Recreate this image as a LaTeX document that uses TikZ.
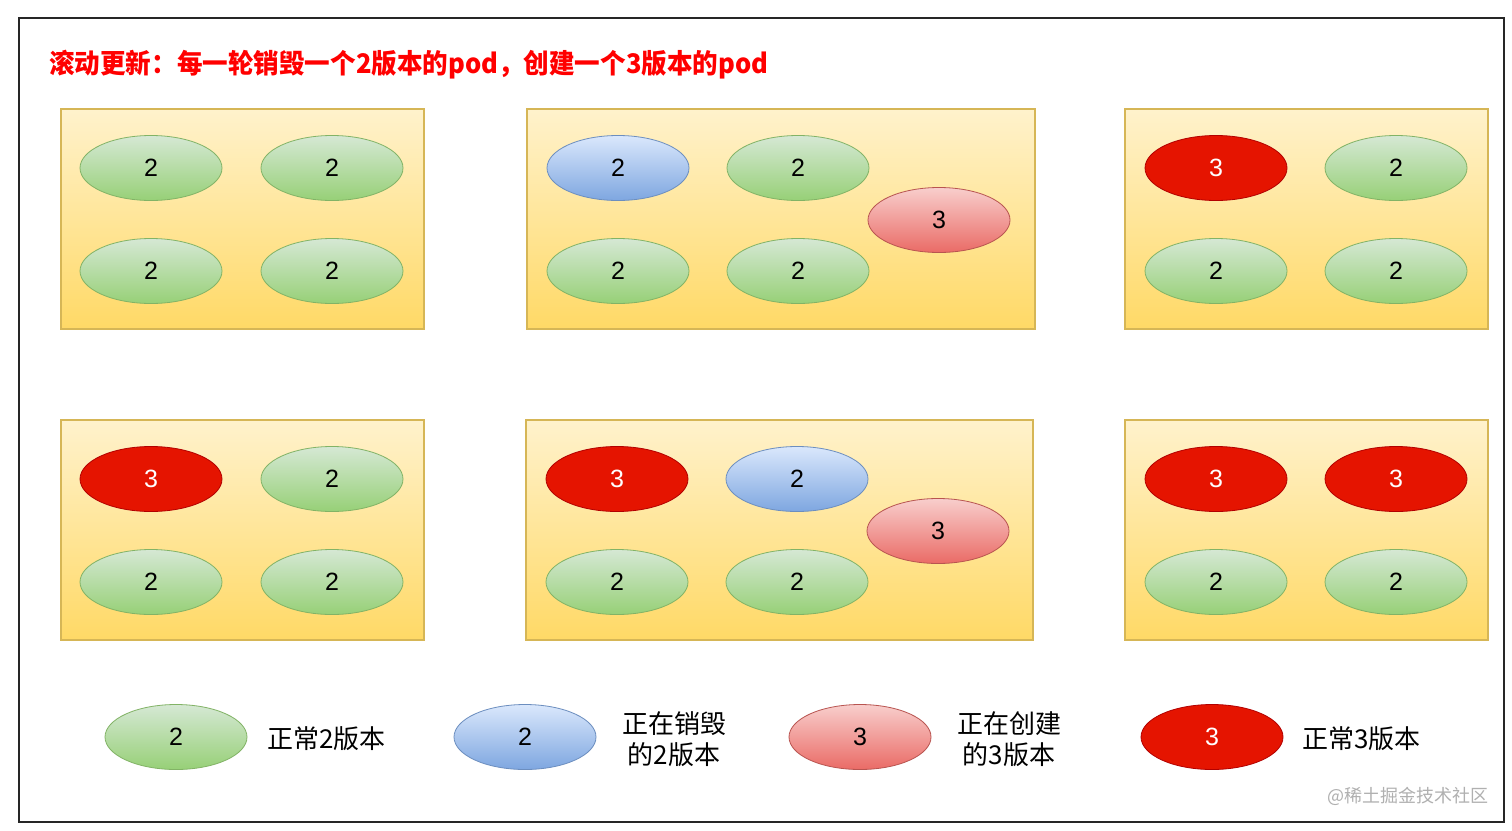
\documentclass[tikz,border=0pt]{standalone}
\usepackage{fontspec}
\usepackage{graphicx}
\setmainfont{Liberation Sans}
\newfontfamily\cjk{Noto Sans CJK SC}
\usetikzlibrary{shapes.geometric}
\definecolor{titlered}{HTML}{FF0000}
\definecolor{boxtop}{HTML}{FFF2CC}
\definecolor{boxbot}{HTML}{FFD966}
\definecolor{boxline}{HTML}{D6B656}
\definecolor{gtop}{HTML}{D5E8D4}
\definecolor{gbot}{HTML}{97D077}
\definecolor{gline}{HTML}{82B366}
\definecolor{btop}{HTML}{DAE8FC}
\definecolor{bbot}{HTML}{7EA6E0}
\definecolor{bline}{HTML}{6C8EBF}
\definecolor{ptop}{HTML}{F8CECC}
\definecolor{pbot}{HTML}{EA6B66}
\definecolor{pline}{HTML}{B85450}
\definecolor{rfill}{HTML}{E51400}
\definecolor{rline}{HTML}{B20000}
\definecolor{wmgray}{HTML}{B0B0B0}
\tikzset{
  pod/.style={ellipse, minimum width=142pt, minimum height=65pt, inner sep=0pt, line width=0.8pt, font=\fontsize{25}{25}\selectfont},
  gpod/.style={pod, top color=gtop, bottom color=gbot, draw=gline},
  bpod/.style={pod, top color=btop, bottom color=bbot, draw=bline},
  ppod/.style={pod, top color=ptop, bottom color=pbot, draw=pline},
  rpod/.style={pod, fill=rfill, draw=rline, text=white},
  stage/.style={top color=boxtop, bottom color=boxbot, draw=boxline, line width=1.2pt},
  legtext/.style={font=\cjk\fontsize{26}{31}\selectfont, align=center, inner sep=0pt}
}
\begin{document}
\begin{tikzpicture}[x=1pt,y=-1pt]
\useasboundingbox (0,0) rectangle (1512,830);
\fill[white] (0,0) rectangle (1512,830);
\draw[line width=1.5pt, black!85] (19,18) rectangle (1504,822);
\node[anchor=west, inner sep=0pt, text=titlered, font=\cjk\bfseries\fontsize{27}{27}\selectfont] (title) at (49,65) {\scalebox{0.947}[1]{滚动更新：每一轮销毁一个2版本的pod，创建一个3版本的pod}};
% stages
\path[stage] (61,109) rectangle (424,329);
\path[stage] (527,109) rectangle (1035,329);
\path[stage] (1125,109) rectangle (1488,329);
\path[stage] (61,420) rectangle (424,640);
\path[stage] (526,420) rectangle (1033,640);
\path[stage] (1125,420) rectangle (1488,640);
% stage 1
\node[gpod] (a1) at (151,168) {2};
\node[gpod] (a2) at (332,168) {2};
\node[gpod] (a3) at (151,271) {2};
\node[gpod] (a4) at (332,271) {2};
% stage 2
\node[bpod] (b1) at (618,168) {2};
\node[gpod] (b2) at (798,168) {2};
\node[ppod] (b5) at (939,220) {3};
\node[gpod] (b3) at (618,271) {2};
\node[gpod] (b4) at (798,271) {2};
% stage 3
\node[rpod] (c1) at (1216,168) {3};
\node[gpod] (c2) at (1396,168) {2};
\node[gpod] (c3) at (1216,271) {2};
\node[gpod] (c4) at (1396,271) {2};
% stage 4
\node[rpod] (d1) at (151,479) {3};
\node[gpod] (d2) at (332,479) {2};
\node[gpod] (d3) at (151,582) {2};
\node[gpod] (d4) at (332,582) {2};
% stage 5
\node[rpod] (e1) at (617,479) {3};
\node[bpod] (e2) at (797,479) {2};
\node[ppod] (e5) at (938,531) {3};
\node[gpod] (e3) at (617,582) {2};
\node[gpod] (e4) at (797,582) {2};
% stage 6
\node[rpod] (f1) at (1216,479) {3};
\node[rpod] (f2) at (1396,479) {3};
\node[gpod] (f3) at (1216,582) {2};
\node[gpod] (f4) at (1396,582) {2};
% legend
\node[gpod] (lg) at (176,737) {2};
\node[legtext, anchor=west] (lgt) at (267,739) {正常2版本};
\node[bpod] (lb) at (525,737) {2};
\node[legtext] (lbt) at (674,739) {正在销毁\\的2版本};
\node[ppod] (lp) at (860,737) {3};
\node[legtext] (lpt) at (1009,739) {正在创建\\的3版本};
\node[rpod] (lr) at (1212,737) {3};
\node[legtext, anchor=west] (lrt) at (1302,739) {正常3版本};
\node[anchor=east, inner sep=0pt, text=wmgray, font=\cjk\fontsize{18}{18}\selectfont] (wm) at (1489,796) {@稀土掘金技术社区};
\end{tikzpicture}
\end{document}
